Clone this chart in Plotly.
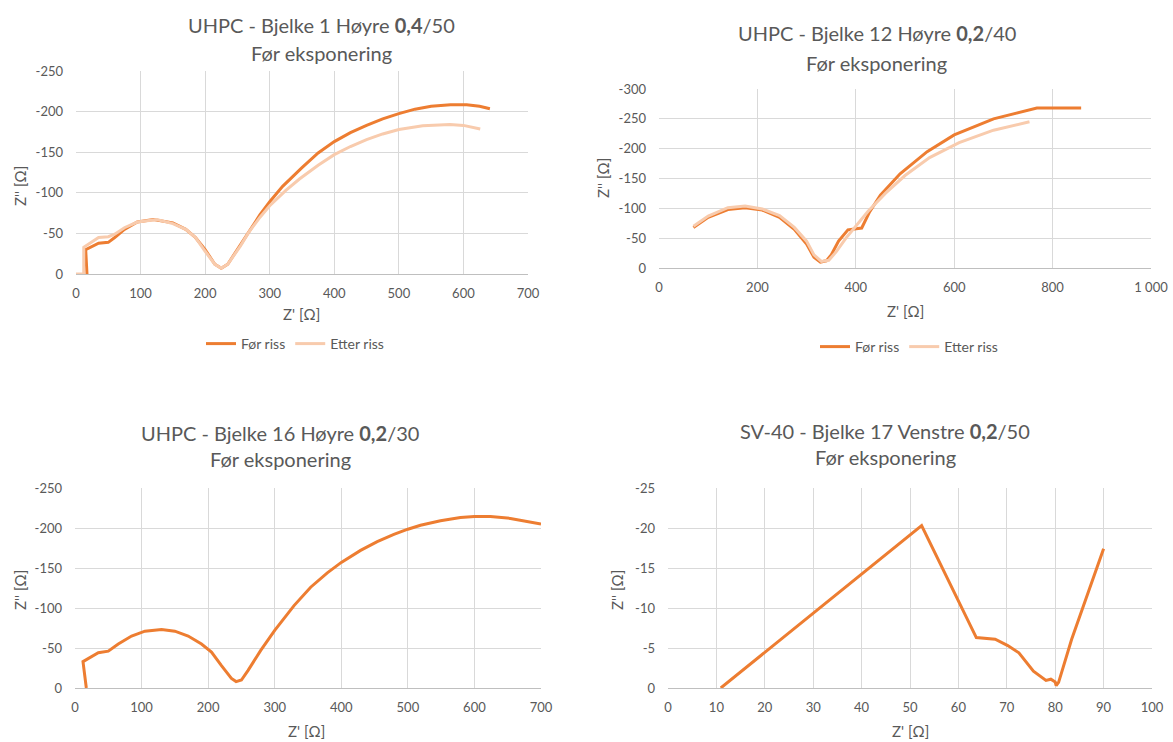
import plotly.graph_objects as go

# ---------------- data ----------------
# Panel 1: UHPC - Bjelke 1 Høyre 0,4/50
p1_for_x = [17, 15, 35, 50, 60, 75, 95, 120, 150, 170, 185, 200, 215, 225, 235, 250, 270, 285, 300, 320, 350, 375, 400, 425, 450, 475, 500, 525, 550, 580, 605, 625, 641]
p1_for_y = [0, -30, -38, -39, -45, -55, -64, -67, -63, -55, -45, -30, -12, -7, -12, -30, -55, -73, -89, -108, -131, -149, -163, -174, -183, -191, -197.5, -203, -206.5, -208.5, -208.5, -206.5, -203.5]
p1_etter_x = [0, 12, 12, 20, 35, 50, 60, 75, 95, 125, 150, 170, 185, 200, 215, 225, 235, 255, 268, 285, 300, 325, 346, 375, 400, 425, 450, 475, 500, 537, 579, 600, 626]
p1_etter_y = [0, 0, -33, -37, -45, -46, -49, -57, -64, -67, -62, -55, -45, -28, -12, -7, -12, -35, -52, -70, -84, -103, -117, -134, -147, -157, -165.5, -172.5, -178, -182.5, -184, -183, -178.5]

# Panel 2: UHPC - Bjelke 12 Høyre 0,2/40
p2_for_x = [70, 100, 140, 175, 210, 245, 275, 300, 315, 328, 340, 350, 365, 384, 412, 428, 450, 490, 545, 600, 680, 768, 858]
p2_for_y = [-68, -85, -98, -101, -97, -85, -65, -40, -18, -10, -12, -22, -45, -64, -67, -94, -122, -158, -195, -223, -250, -268, -268]
p2_etter_x = [70, 100, 140, 175, 210, 245, 275, 300, 315, 330, 345, 360, 380, 400, 425, 460, 500, 550, 610, 680, 753]
p2_etter_y = [-70, -87, -101, -104, -99, -88, -68, -45, -22, -11, -13, -27, -50, -70, -95, -125, -155, -185, -210, -231, -245]

# Panel 3: UHPC - Bjelke 16 Høyre 0,2/30
p3_x = [0, None, 17, 12, 35, 50, 65, 85, 105, 130, 150, 170, 190, 205, 220, 235, 242, 250, 260, 279, 300, 329, 354, 379, 400, 429, 454, 479, 500, 519, 549, 579, 600, 624, 654, 700]
p3_y = [0, None, 0, -33, -44, -46, -55, -65, -71, -73, -71, -65, -55, -45, -28, -12, -8, -10, -22, -47, -72, -103, -126, -144, -157, -172, -183, -192, -198.5, -203.5, -209, -213, -214.5, -214.5, -212, -205]

# Panel 4: SV-40 - Bjelke 17 Venstre 0,2/50
p4_x = [0, None, 10.9, 52.4, 63.7, 67.6, 70.2, 72.5, 75.5, 77.5, 78.1, 79.1, 80.0, 80.2, 80.7, 83.4, 85.8, 90.0]
p4_y = [0, None, 0, -20.3, -6.3, -6.1, -5.3, -4.4, -2.1, -1.3, -0.95, -1.1, -0.75, -0.3, -0.7, -6.1, -10.2, -17.4]

series_names = ["Før riss", "Etter riss"]
titles = [
    "UHPC - Bjelke 1 Høyre <b>0,4</b>/50",
    "UHPC - Bjelke 12 Høyre <b>0,2</b>/40",
    "UHPC - Bjelke 16 Høyre <b>0,2</b>/30",
    "SV-40 - Bjelke 17 Venstre <b>0,2</b>/50",
]
subtitle = "Før eksponering"
x_title = "Z' [Ω]"
y_title = "Z'' [Ω]"

p1_xticks = [0, 100, 200, 300, 400, 500, 600, 700]
p1_yticks = [0, -50, -100, -150, -200, -250]
p2_xticks = [0, 200, 400, 600, 800, 1000]
p2_xlabels = ["0", "200", "400", "600", "800", "1 000"]
p2_yticks = [0, -50, -100, -150, -200, -250, -300]
p3_xticks = [0, 100, 200, 300, 400, 500, 600, 700]
p3_yticks = [0, -50, -100, -150, -200, -250]
p4_xticks = [0, 10, 20, 30, 40, 50, 60, 70, 80, 90, 100]
p4_yticks = [0, -5, -10, -15, -20, -25]

# ---------------- style ----------------
W, H = 1173, 742
FONT = "Lato"
TXT = "#595959"
C_FOR = "#ED7D31"
C_ETTER = "#F8CBAD"
GRID = "#D9D9D9"
AXIS = "#BFBFBF"

def px(x):
    return x / W

def py(y):
    return 1 - y / H

fig = go.Figure()

# panel pixel boxes: (left, right, top, bottom)
boxes = [(76, 528, 71, 274), (659, 1151, 89, 268), (75, 541, 488, 688), (668, 1152, 488, 688)]

fig.add_trace(go.Scatter(x=p1_for_x, y=p1_for_y, mode="lines", name=series_names[0],
                         line=dict(color=C_FOR, width=3), xaxis="x", yaxis="y", legend="legend"))
fig.add_trace(go.Scatter(x=p1_etter_x, y=p1_etter_y, mode="lines", name=series_names[1],
                         line=dict(color=C_ETTER, width=3), xaxis="x", yaxis="y", legend="legend"))
fig.add_trace(go.Scatter(x=p2_for_x, y=p2_for_y, mode="lines", name=series_names[0],
                         line=dict(color=C_FOR, width=3), xaxis="x2", yaxis="y2", legend="legend2"))
fig.add_trace(go.Scatter(x=p2_etter_x, y=p2_etter_y, mode="lines", name=series_names[1],
                         line=dict(color=C_ETTER, width=3), xaxis="x2", yaxis="y2", legend="legend2"))
fig.add_trace(go.Scatter(x=p3_x, y=p3_y, mode="lines", name=series_names[0], showlegend=False,
                         line=dict(color=C_FOR, width=3), xaxis="x3", yaxis="y3"))
fig.add_trace(go.Scatter(x=p4_x, y=p4_y, mode="lines", name=series_names[0], showlegend=False,
                         line=dict(color=C_FOR, width=3), xaxis="x4", yaxis="y4"))

axes_spec = [
    (p1_xticks, [str(v) for v in p1_xticks], [0, 700], p1_yticks, [str(v) for v in p1_yticks], [0, -250]),
    (p2_xticks, p2_xlabels, [0, 1000], p2_yticks, [str(v) for v in p2_yticks], [0, -300]),
    (p3_xticks, [str(v) for v in p3_xticks], [0, 700], p3_yticks, [str(v) for v in p3_yticks], [0, -250]),
    (p4_xticks, [str(v) for v in p4_xticks], [0, 100], p4_yticks, [str(v) for v in p4_yticks], [0, -25]),
]

layout = dict(
    width=W, height=H,
    margin=dict(l=0, r=0, t=0, b=0, autoexpand=False),
    paper_bgcolor="white", plot_bgcolor="white",
    font=dict(family=FONT, color=TXT, size=13),
)

annotations = []
for i, (box, spec) in enumerate(zip(boxes, axes_spec)):
    l, r, t, b = box
    xt, xl, xr, yt, yl, yr = spec
    sfx = "" if i == 0 else str(i + 1)
    layout["xaxis" + sfx] = dict(
        domain=[px(l), px(r)], range=xr, anchor="y" + sfx,
        tickvals=xt, ticktext=xl, showgrid=True, gridcolor=GRID, gridwidth=1,
        zeroline=False, showline=True, linecolor=AXIS, linewidth=1,
        ticks="", tickfont=dict(size=13, color=TXT, family=FONT), ticklabelstandoff=7,
        automargin=False, fixedrange=True,
    )
    layout["yaxis" + sfx] = dict(
        domain=[py(b), py(t)], range=yr, anchor="x" + sfx,
        tickvals=yt, ticktext=yl, showgrid=True, gridcolor=GRID, gridwidth=1,
        zeroline=False, showline=False, ticks="",
        tickfont=dict(size=13, color=TXT, family=FONT), ticklabelstandoff=12,
        automargin=False, fixedrange=True,
    )

title_pos = [((321, 25), (321, 53)), ((877, 33), (877, 63)), ((280, 433), (280, 459)), ((885, 431), (885, 457))]
xtitle_pos = [(301, 314), (905, 311), (306, 731), (910, 731)]
ytitle_pos = [(20, 186), (603, 178), (20, 590), (617, 590)]

for i in range(4):
    (x1, y1), (x2, y2) = title_pos[i]
    annotations.append(dict(text=titles[i], x=px(x1), y=py(y1), xref="paper", yref="paper",
                            xanchor="center", yanchor="middle", showarrow=False,
                            font=dict(size=20, color=TXT, family=FONT)))
    annotations.append(dict(text=subtitle, x=px(x2), y=py(y2), xref="paper", yref="paper",
                            xanchor="center", yanchor="middle", showarrow=False,
                            font=dict(size=20, color=TXT, family=FONT)))
    xx, xy = xtitle_pos[i]
    annotations.append(dict(text=x_title, x=px(xx), y=py(xy), xref="paper", yref="paper",
                            xanchor="center", yanchor="middle", showarrow=False,
                            font=dict(size=15, color=TXT, family=FONT)))
    yx, yy = ytitle_pos[i]
    annotations.append(dict(text=y_title, x=px(yx), y=py(yy), xref="paper", yref="paper",
                            xanchor="center", yanchor="middle", showarrow=False, textangle=-90,
                            font=dict(size=15, color=TXT, family=FONT)))

layout["annotations"] = annotations
layout["legend"] = dict(orientation="h", x=px(295), y=py(344), xanchor="center", yanchor="middle",
                        font=dict(size=14, color=TXT, family=FONT), bgcolor="rgba(0,0,0,0)",
                        itemwidth=30, tracegroupgap=0)
layout["legend2"] = dict(orientation="h", x=px(909), y=py(347), xanchor="center", yanchor="middle",
                         font=dict(size=14, color=TXT, family=FONT), bgcolor="rgba(0,0,0,0)",
                         itemwidth=30, tracegroupgap=0)

fig.update_layout(**layout)
fig.write_html("out.html", config={"displayModeBar": False},
               post_script="document.body.style.margin='0';document.body.style.overflow='hidden';")
